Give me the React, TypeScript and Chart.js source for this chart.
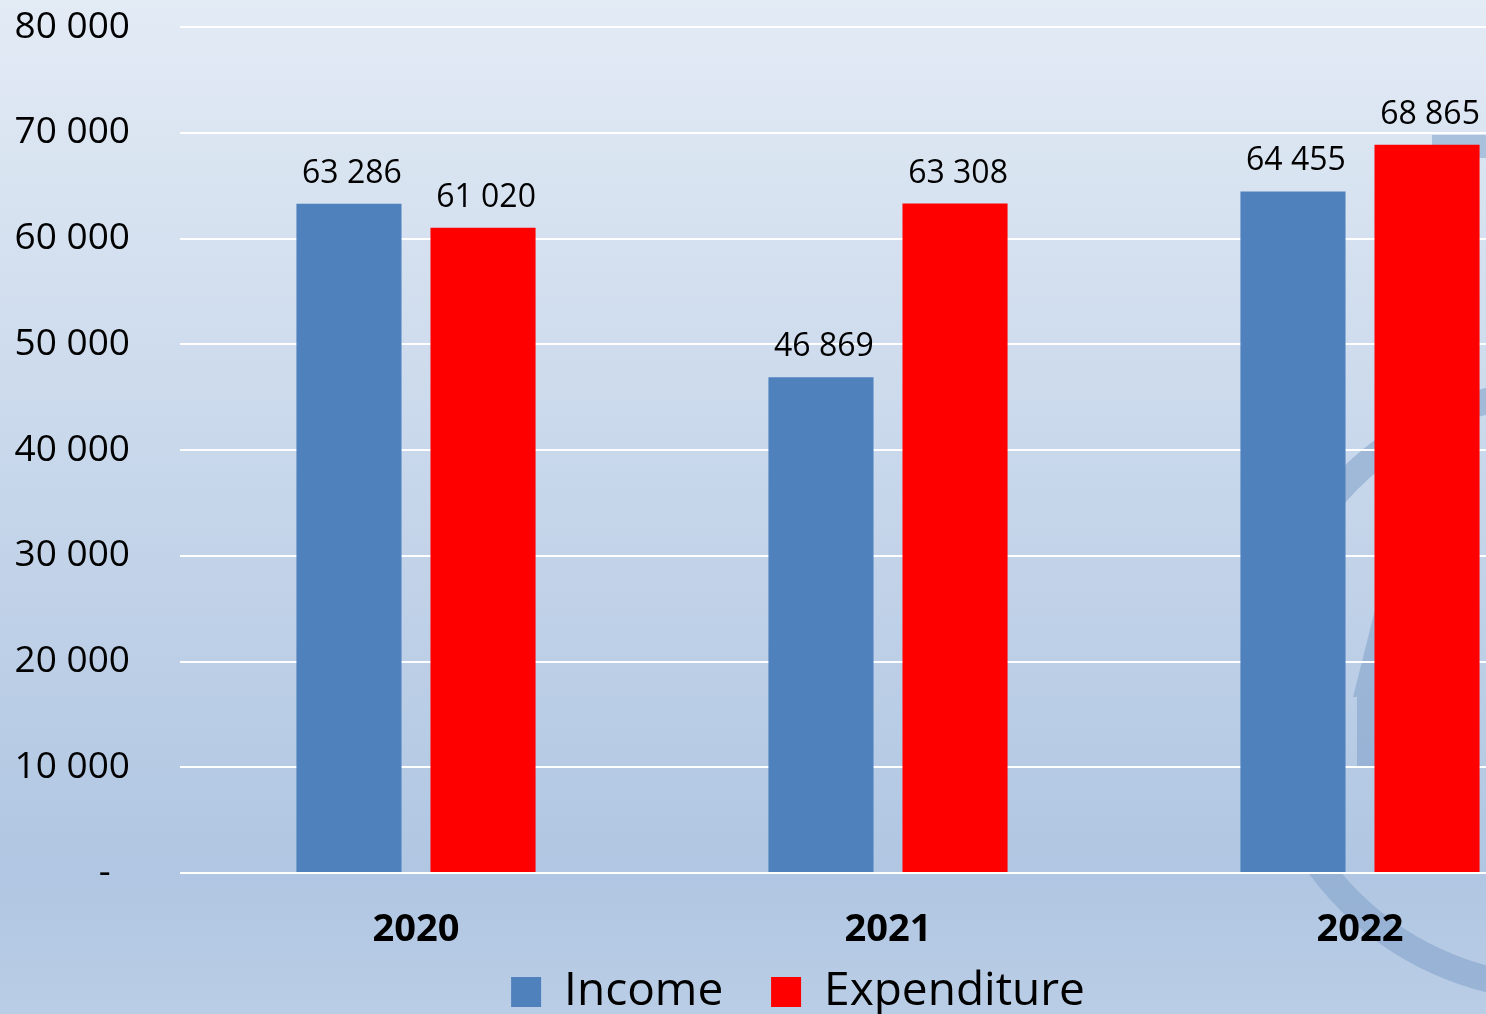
import React, { useEffect, useRef } from "react";
import { Chart, registerables } from "chart.js";

Chart.register(...registerables);

const categories = ["2020", "2021", "2022"];
const incomeValues = [63286, 46869, 64455];
const expenditureValues = [61020, 63308, 68865];
const yMax = 80000;
const yStep = 10000;
const seriesNames = ["Income", "Expenditure"];
const seriesColors = ["#4f81bd", "#ff0000"];

const FONT = "'Open Sans', 'Noto Sans', sans-serif";

const fmt = (v: number) => String(Math.round(v)).replace(/\B(?=(\d{3})+(?!\d))/g, " ");

const backgroundPlugin = {
  id: "bgPlugin",
  beforeDraw(chart: any) {
    const { ctx, width } = chart;
    const h = 1014;
    ctx.save();
    const g = ctx.createLinearGradient(0, 0, 0, h);
    g.addColorStop(0, "#e3ebf5");
    g.addColorStop(0.86, "#b0c6e2");
    g.addColorStop(1, "#bacde6");
    ctx.fillStyle = g;
    ctx.fillRect(0, 0, width, chart.height);
    // faint watermark logo
    ctx.strokeStyle = "rgba(128,160,200,0.55)";
    ctx.lineWidth = 26;
    ctx.beginPath();
    ctx.arc(1560, 690, 298, 0, Math.PI * 2);
    ctx.stroke();
    ctx.fillStyle = "rgba(128,160,200,0.55)";
    ctx.beginPath();
    ctx.moveTo(1380, 590);
    ctx.lineTo(1353, 697);
    ctx.lineTo(1357, 697);
    ctx.lineTo(1357, 766);
    ctx.lineTo(1420, 766);
    ctx.lineTo(1420, 590);
    ctx.closePath();
    ctx.fill();
    ctx.fillStyle = "rgba(150,178,212,0.7)";
    ctx.fillRect(1432, 135, 90, 23);
    ctx.restore();
  },
};

const labelPlugin = {
  id: "valueLabels",
  afterDatasetsDraw(chart: any) {
    const { ctx } = chart;
    ctx.save();
    ctx.font = `32px ${FONT}`;
    ctx.fillStyle = "#000";
    ctx.textAlign = "center";
    ctx.textBaseline = "bottom";
    chart.data.datasets.forEach((ds: any, i: number) => {
      const meta = chart.getDatasetMeta(i);
      meta.data.forEach((bar: any, j: number) => {
        ctx.fillText(fmt(ds.data[j]), bar.x + 3, bar.y - 14);
      });
    });
    ctx.restore();
  },
};

export default function App() {
  const ref = useRef<HTMLCanvasElement | null>(null);
  useEffect(() => {
    if (!ref.current) return;
    const chart = new Chart(ref.current, {
      type: "bar",
      data: {
        labels: categories,
        datasets: [
          {
            label: seriesNames[0],
            data: incomeValues,
            backgroundColor: seriesColors[0],
            categoryPercentage: 0.568,
            barPercentage: 0.784,
          },
          {
            label: seriesNames[1],
            data: expenditureValues,
            backgroundColor: seriesColors[1],
            categoryPercentage: 0.568,
            barPercentage: 0.784,
          },
        ],
      },
      options: {
        responsive: false,
        animation: false,
        devicePixelRatio: 1,
        layout: { padding: { top: 27, right: 14, left: 0, bottom: 0 } },
        plugins: {
          tooltip: { enabled: false },
          legend: {
            position: "bottom",
            labels: {
              boxWidth: 30,
              boxHeight: 30,
              padding: 0,
              color: "#000",
              font: { family: FONT, size: 46, lineHeight: 1 },
              generateLabels(chart: any) {
                const items = Chart.defaults.plugins.legend.labels.generateLabels(chart);
                return items.map((it: any, i: number) =>
                  i < items.length - 1 ? { ...it, text: it.text + "    " } : it
                );
              },
            },
          },
        },
        scales: {
          x: {
            grid: { display: false },
            border: { display: false },
            ticks: {
              color: "#000",
              padding: 26,
              font: { family: FONT, size: 38, weight: "bold" },
            },
            afterFit(scale: any) {
              scale.height = 96;
              scale.paddingLeft = 0;
              scale.paddingRight = 0;
            },
          },
          y: {
            min: 0,
            max: yMax,
            grid: { color: "#ffffff", lineWidth: 2, drawTicks: false },
            border: { display: false },
            ticks: {
              stepSize: yStep,
              color: "#000",
              padding: 50,
              font: { family: FONT, size: 37 },
              callback: (v: any) => (Number(v) === 0 ? "-  " : fmt(Number(v))),
            },
            afterFit(scale: any) {
              scale.width = 180;
              scale.paddingTop = 0;
              scale.paddingBottom = 0;
            },
          },
        },
      },
      plugins: [backgroundPlugin, labelPlugin],
    });
    return () => chart.destroy();
  }, []);

  return (
    <div style={{ position: "fixed", left: 0, top: 0, width: 1486, height: 1014, overflow: "hidden" }}>
      <canvas ref={ref} width={1610} height={1025} style={{ width: 1610, height: 1025, display: "block" }} />
    </div>
  );
}
